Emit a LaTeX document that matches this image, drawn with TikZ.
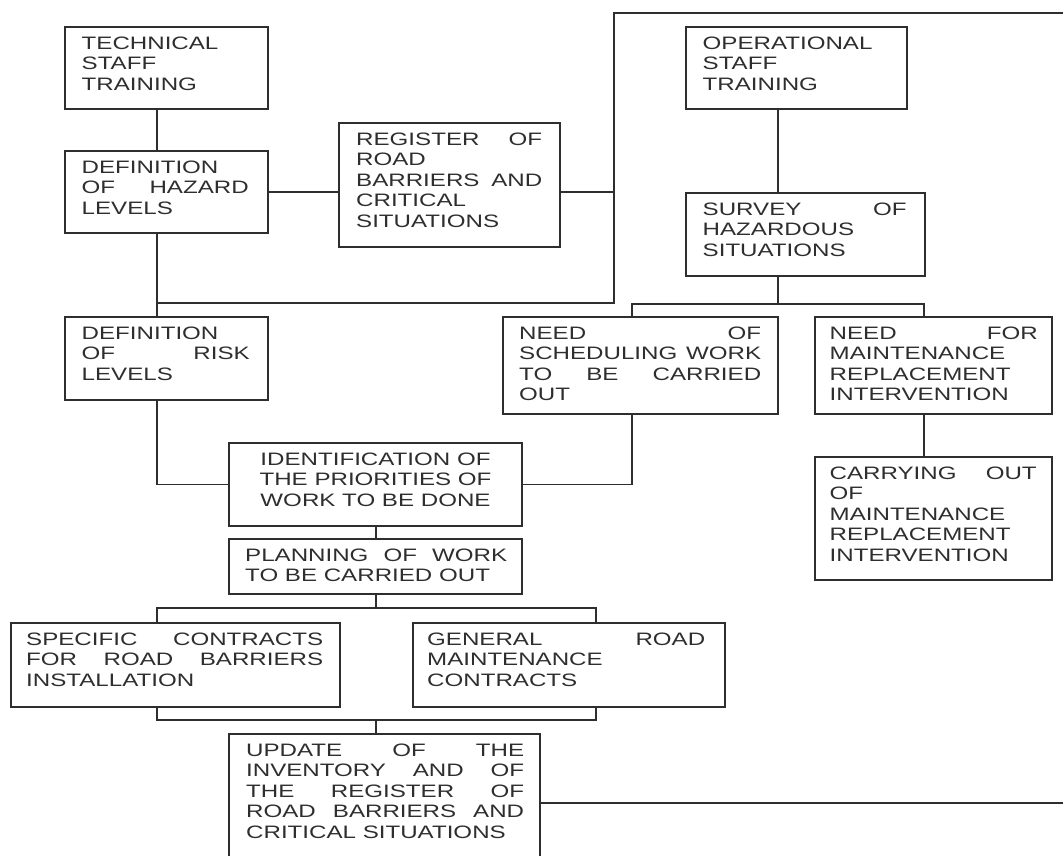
\documentclass[tikz,border=0pt]{standalone}
\usepackage{fontspec}
\setmainfont{Liberation Sans}[FakeStretch=1.34]
\newcommand\jl[2]{\makebox[#1pt][s]{#2}}
\newcommand\tp{\rule{0pt}{15pt}}
\newcommand\mkbox[5]{\node[box,minimum width={(#4-#2)*1pt},minimum height={(#5-#3)*1pt}] (#1) at (#2,#3) {};}
\tikzset{
  box/.style={draw=black!82, line width=1.5pt, inner sep=0pt, outer sep=0pt, anchor=north west},
  lbl/.style={anchor=north west, inner sep=0pt, align=left, font=\fontsize{18}{20.5}\selectfont, text=black!82},
  conn/.style={draw=black!82, line width=1.5pt}
}
\begin{document}
\begin{tikzpicture}[x=1pt,y=-1pt]
\useasboundingbox (0,0) rectangle (1063,855);
\fill[white] (0,0) rectangle (1063,855);
\clip (0,0) rectangle (1063,855);
% boxes
\mkbox{tech}{65}{27}{268}{109}
\mkbox{hazard}{65}{151}{268}{233}
\mkbox{register}{339}{123}{560}{247}
\mkbox{oper}{686}{27}{907}{109}
\mkbox{survey}{686}{193}{925}{276}
\mkbox{risk}{65}{317}{268}{400}
\mkbox{needof}{503}{317}{778}{414}
\mkbox{needfor}{815}{317}{1052}{414}
\mkbox{carry}{815}{457}{1052}{580}
\mkbox{ident}{229}{443}{522}{526}
\mkbox{plan}{229}{539}{522}{594}
\mkbox{specific}{11}{623}{340}{707}
\mkbox{general}{413}{623}{725}{707}
\mkbox{update}{229}{734}{540}{890}
% texts
\node[lbl] (tech-t) at ([shift={(16.5,7)}]tech.north west) {\tp TECHNICAL\\STAFF\\TRAINING};
\node[lbl] (hazard-t) at ([shift={(16.5,7)}]hazard.north west) {\tp DEFINITION\\\jl{167}{OF HAZARD}\\LEVELS};
\node[lbl] (register-t) at ([shift={(17,7)}]register.north west) {\tp\jl{186}{REGISTER OF}\\ROAD\\\jl{186}{BARRIERS AND}\\CRITICAL\\SITUATIONS};
\node[lbl] (oper-t) at ([shift={(16.5,7)}]oper.north west) {\tp OPERATIONAL\\STAFF\\TRAINING};
\node[lbl] (survey-t) at ([shift={(16.5,7)}]survey.north west) {\tp\jl{204}{SURVEY OF}\\HAZARDOUS\\SITUATIONS};
\node[lbl] (risk-t) at ([shift={(16.5,7)}]risk.north west) {\tp DEFINITION\\\jl{168}{OF RISK}\\LEVELS};
\node[lbl] (needof-t) at ([shift={(16,7)}]needof.north west) {\tp\jl{242}{NEED OF}\\\jl{242}{SCHEDULING WORK}\\\jl{242}{TO BE CARRIED}\\OUT};
\node[lbl] (needfor-t) at ([shift={(14.5,7)}]needfor.north west) {\tp\jl{208}{NEED FOR}\\MAINTENANCE\\REPLACEMENT\\INTERVENTION};
\node[lbl] (carry-t) at ([shift={(14.5,7)}]carry.north west) {\tp\jl{207}{CARRYING OUT}\\OF\\MAINTENANCE\\REPLACEMENT\\INTERVENTION};
\node[lbl, anchor=north, align=center] (ident-t) at ([shift={(0,7)}]ident.north) {\tp IDENTIFICATION OF\\THE PRIORITIES OF\\WORK TO BE DONE};
\node[lbl] (plan-t) at ([shift={(16,7)}]plan.north west) {\tp\jl{262}{PLANNING OF WORK}\\TO BE CARRIED OUT};
\node[lbl] (specific-t) at ([shift={(15,7)}]specific.north west) {\tp\jl{297}{SPECIFIC CONTRACTS}\\\jl{297}{FOR ROAD BARRIERS}\\INSTALLATION};
\node[lbl] (general-t) at ([shift={(14,7)}]general.north west) {\tp\jl{278}{GENERAL ROAD}\\MAINTENANCE\\CONTRACTS};
\node[lbl] (update-t) at ([shift={(17,7)}]update.north west) {\tp\jl{278}{UPDATE OF THE}\\\jl{278}{INVENTORY AND OF}\\\jl{278}{THE REGISTER OF}\\\jl{278}{ROAD BARRIERS AND}\\CRITICAL SITUATIONS};
% junction coordinates
\coordinate (vL) at (157,303);
\coordinate (vM) at (614,303);
\coordinate (topL) at (614,13);
\coordinate (topR) at (1063,13);
\coordinate (vR) at (778,304);
\coordinate (xa) at (632,304);
\coordinate (xb) at (924,304);
\coordinate (vC) at (376,608);
\coordinate (xg) at (596,608);
\coordinate (vC2) at (376,720);
\coordinate (xg2) at (596,720);
\coordinate (botR) at (1063,803);
% connectors
\draw[conn] (tech.south -| vL) -- (hazard.north -| vL);
\draw[conn] (hazard.east) -- (hazard.east -| register.west);
\draw[conn] (register.east |- hazard.east) -- (hazard.east -| vM);
\draw[conn] (topR) -- (topL) -- (vM) -- (vL);
\draw[conn] (hazard.south -| vL) -- (risk.north -| vL);
\draw[conn] (oper.south -| vR) -- (survey.north -| vR);
\draw[conn] (survey.south -| vR) -- (vR);
\draw[conn] (needof.north -| xa) -- (xa) -- (xb) -- (needfor.north -| xb);
\draw[conn] (needof.south -| xa) |- (ident.east);
\draw[conn] (risk.south -| vL) |- (ident.west);
\draw[conn] (needfor.south -| xb) -- (carry.north -| xb);
\draw[conn] (ident.south -| vC) -- (plan.north -| vC);
\draw[conn] (plan.south -| vC) -- (vC);
\draw[conn] (specific.north -| vL) |- (xg) -- (general.north -| xg);
\draw[conn] (specific.south -| vL) |- (xg2) -- (general.south -| xg2);
\draw[conn] (vC2) -- (update.north -| vC2);
\draw[conn] (update.east |- botR) -- (botR);
\end{tikzpicture}
\end{document}
